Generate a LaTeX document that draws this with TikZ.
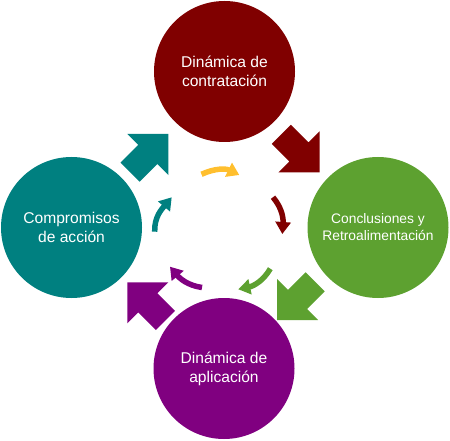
\documentclass[tikz,border=0pt]{standalone}
\usepackage{fontspec}
\setmainfont{Liberation Sans}
\usetikzlibrary{arrows.meta}
\definecolor{cMaroon}{HTML}{800000}
\definecolor{cGreen}{HTML}{5DA130}
\definecolor{cTeal}{HTML}{008080}
\definecolor{cPurple}{HTML}{800080}
\definecolor{cGold}{HTML}{FFBF2E}
\tikzset{
  stage/.style={circle, minimum size=141pt, inner sep=0pt, text=white, align=center,
    font=\fontsize{15.6}{19}\selectfont},
  smallstage/.style={stage, font=\fontsize{13.8}{17}\selectfont},
  cyclearrow/.style={line width=5.5pt, -{Triangle[length=12pt,width=15pt]}},
}
\newcommand\blockarrow[3]{%
  \fill[#1, shift={#2}, rotate=#3] (0,0) -- (-29,29) -- (-29,13.5) -- (-54,13.5)
    -- (-54,-13.5) -- (-29,-13.5) -- (-29,-29) -- cycle;}
\begin{document}
\begin{tikzpicture}[x=1pt,y=1pt]
\useasboundingbox (0,0) rectangle (450,440);
% stages
\node[stage, fill=cMaroon] (cTop) at (224.5,368.5) {Dinámica de\\contratación};
\node[smallstage, fill=cGreen] (cRight) at (378,212.5) {Conclusiones y\\Retroalimentación};
\node[stage, fill=cPurple] (cBottom) at (224,71.5) {Dinámica de\\aplicación};
\node[stage, fill=cTeal] (cLeft) at (71.5,212.5) {Compromisos\\de acción};
% block arrows
\blockarrow{cMaroon}{(319.5,267.5)}{-45}
\blockarrow{cGreen}{(277,120)}{-135}
\blockarrow{cPurple}{(127.3,157.7)}{135}
\blockarrow{cTeal}{(168.3,306)}{45}
% small cycle arrows
\coordinate (y1) at (201.5,265.7); \coordinate (y2) at (239.3,265);
\coordinate (r1) at (273,242.8);   \coordinate (r2) at (282.3,206);
\coordinate (g1) at (270.3,171.3); \coordinate (g2) at (238.3,150.7);
\coordinate (p1) at (202,152.5);   \coordinate (p2) at (170,173.3);
\coordinate (t1) at (154.7,208.3); \coordinate (t2) at (171.7,242.7);
\draw[cyclearrow, cGold]   (y1) to[out=25,in=154] (y2);
\draw[cyclearrow, cMaroon] (r1) to[out=-50,in=86] (r2);
\draw[cyclearrow, cGreen]  (g1) to[out=240,in=12] (g2);
\draw[cyclearrow, cPurple] (p1) to[out=172,in=-50] (p2);
\draw[cyclearrow, cTeal]   (t1) to[out=92,in=230] (t2);
\end{tikzpicture}
\end{document}
